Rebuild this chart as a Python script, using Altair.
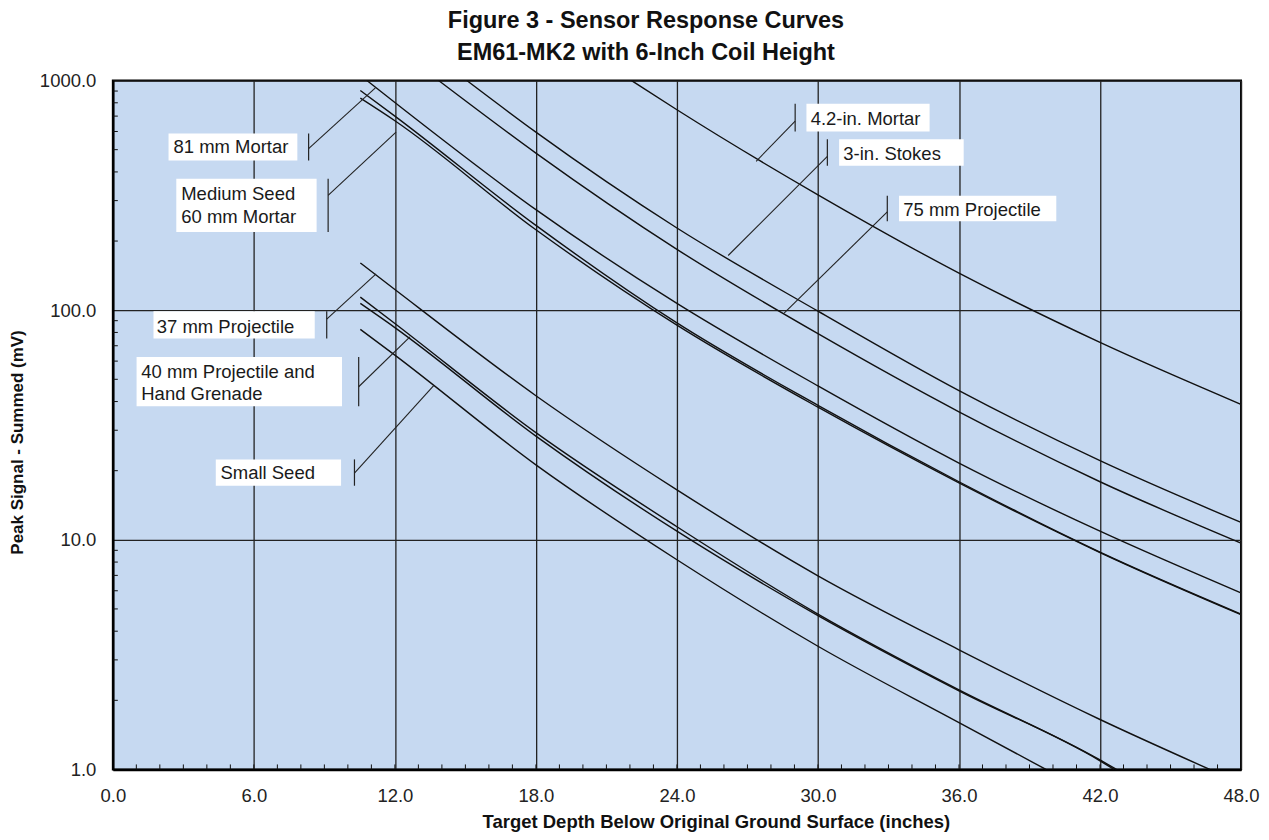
import altair as alt
import pandas as pd

FONT = "Liberation Sans"

# ---------------- curve data (depth in inches, peak signal in mV) ----------------
mortar42_depth = [22.07, 24, 30, 36, 42, 48]
mortar42_value = [1000, 746, 318, 145, 72.4, 38.9]

stokes_depth = [15.06, 18, 24, 30, 36, 42, 48]
stokes_value = [1000, 596, 228, 99, 44.6, 22.1, 11.9]

proj75_depth = [13.86, 18, 24, 30, 36, 42, 48]
proj75_value = [1000, 483, 184, 79, 36.1, 17.9, 9.67]

mortar81_depth = [10.81, 12, 18, 24, 30, 36, 42, 48]
mortar81_value = [1000, 802, 274, 107, 46.8, 21.6, 10.9, 5.87]

medseed_depth = [10.53, 12, 18, 24, 30, 36, 42, 48]
medseed_value = [905, 700, 234, 88, 38.5, 17.9, 8.84, 4.75]

mortar60_depth = [10.53, 12, 18, 24, 30, 36, 42, 48]
mortar60_value = [838, 668, 224, 86, 37.8, 17.7, 8.8, 4.72]

proj37_depth = [10.53, 12, 18, 24, 30, 36, 42, 46.67]
proj37_value = [160.6, 123, 42.4, 16.5, 6.97, 3.32, 1.65, 1.0]

proj40_depth = [10.53, 12, 18, 24, 30, 36, 42, 42.7]
proj40_value = [114, 87.5, 29.3, 11.4, 4.75, 2.22, 1.1, 1.0]

grenade_depth = [10.53, 12, 18, 24, 30, 36, 42, 42.6]
grenade_value = [107, 84, 28.3, 10.9, 4.68, 2.2, 1.09, 1.0]

smallseed_depth = [10.53, 12, 18, 24, 30, 36, 39.7]
smallseed_value = [82.5, 63.7, 21.2, 8.19, 3.44, 1.6, 1.0]

curves = [
    ("4.2-in. Mortar", mortar42_depth, mortar42_value),
    ("3-in. Stokes", stokes_depth, stokes_value),
    ("75 mm Projectile", proj75_depth, proj75_value),
    ("81 mm Mortar", mortar81_depth, mortar81_value),
    ("Medium Seed", medseed_depth, medseed_value),
    ("60 mm Mortar", mortar60_depth, mortar60_value),
    ("37 mm Projectile", proj37_depth, proj37_value),
    ("40 mm Projectile", proj40_depth, proj40_value),
    ("Hand Grenade", grenade_depth, grenade_value),
    ("Small Seed", smallseed_depth, smallseed_value),
]

# axis ticks
x_major = [0, 6, 12, 18, 24, 30, 36, 42, 48]
y_major = [1, 10, 100, 1000]
x_minor = list(range(1, 48))
y_minor = [m * 10 ** e for e in range(3) for m in range(2, 10)]

# ---------------- annotation data (data units) ----------------
label_lines = ["81 mm Mortar", "Medium Seed", "60 mm Mortar", "37 mm Projectile",
               "40 mm Projectile and", "Hand Grenade", "Small Seed",
               "4.2-in. Mortar", "3-in. Stokes", "75 mm Projectile"]
label_depth = [2.58, 2.91, 2.91, 1.87, 1.21, 1.21, 4.58, 29.69, 31.08, 33.63]
label_value = [511, 321.7, 254.5, 84.1, 53.9, 43.1, 19.5, 681.6, 480, 272]

box_d0 = [2.37, 2.70, 1.73, 1.01, 4.38, 29.51, 30.90, 33.45]
box_d1 = [7.85, 8.67, 8.59, 9.75, 9.71, 34.75, 36.20, 40.14]
box_v0 = [449, 218.9, 75.3, 38.2, 17.2, 600, 425.8, 243.8]
box_v1 = [588, 373.9, 99.0, 62.6, 22.4, 792, 555.7, 315.2]

bar_d = [8.33, 9.16, 9.10, 10.46, 10.28, 29.03, 30.40, 32.95]

lead_d0 = [8.33, 9.16, 9.10, 10.46, 10.28, 29.03, 30.40, 32.95]
lead_v0 = [505, 316, 91.4, 46.4, 19.5, 665, 467, 268]
lead_d1 = [11.17, 12.05, 11.2, 12.64, 13.65, 27.37, 26.18, 28.56]
lead_v1 = [929, 596, 144, 76.5, 46.9, 445, 173, 97]

title_lines = ["Figure 3 - Sensor Response Curves", "EM61-MK2 with 6-Inch Coil Height"]

# ---------------- tables ----------------
rows = []
for name, ds, vs in curves:
    for d, v in zip(ds, vs):
        rows.append({"curve": name, "depth": d, "value": v})
df_curves = pd.DataFrame(rows)

df_xminor = pd.DataFrame({"depth": x_minor})
df_yminor = pd.DataFrame({"value": y_minor})
df_labels = pd.DataFrame({"label": label_lines, "depth": label_depth, "value": label_value})
df_boxes = pd.DataFrame({"depth": box_d0, "depth2": box_d1, "value": box_v0, "value2": box_v1})
df_bars = pd.DataFrame({"depth": bar_d, "value": box_v0, "value2": box_v1})
df_leads = pd.DataFrame({"depth": lead_d0, "value": lead_v0, "depth2": lead_d1, "value2": lead_v1})

W, H = 1130, 690
XS = alt.Scale(domain=[0, 48], nice=False, zero=False)
YS = alt.Scale(type="log", domain=[1, 1000], nice=False)

x_axis = alt.Axis(values=x_major, format=".1f", grid=True, ticks=False, domain=True,
                  domainColor="#000", domainWidth=2.5, gridColor="#222", gridWidth=1.3,
                  labelFont=FONT, labelFontSize=18.5, labelColor="#222", labelPadding=17,
                  labelFlush=False, labelOverlap=False,
                  title="Target Depth Below Original Ground Surface (inches)",
                  titleFont=FONT, titleFontSize=18.5, titleFontWeight="bold", titleColor="#111",
                  titleX=604, titleY=52, titleAnchor="middle", titleBaseline="middle", titleAlign="center")
y_axis = alt.Axis(values=y_major, format=".1f", grid=True, ticks=False, domain=True,
                  domainColor="#000", domainWidth=2.5, gridColor="#222", gridWidth=1.3,
                  labelFont=FONT, labelFontSize=18.5, labelColor="#222", labelPadding=17,
                  labelFlush=False, labelOverlap=False,
                  title="Peak Signal - Summed (mV)",
                  titleFont=FONT, titleFontSize=17, titleFontWeight="bold", titleColor="#111",
                  titleX=-95, titleY=362, titleAngle=-90, titleAnchor="middle",
                  titleBaseline="middle", titleAlign="center")

X = alt.X("depth:Q", scale=XS, axis=x_axis)
Y = alt.Y("value:Q", scale=YS, axis=y_axis)

curves_layer = alt.Chart(df_curves).mark_line(
    color="#111", strokeWidth=1.4, interpolate="monotone", clip=True
).encode(x=X, y=Y, detail="curve:N")

xminor_layer = alt.Chart(df_xminor).mark_rule(color="#111", strokeWidth=1).encode(
    x=X, y=alt.value(H), y2=alt.value(H - 5),
)
yminor_layer = alt.Chart(df_yminor).mark_rule(color="#111", strokeWidth=1).encode(
    y=Y, x=alt.value(0), x2=alt.value(5),
)

boxes_layer = alt.Chart(df_boxes).mark_rect(fill="white").encode(
    x=X, x2="depth2:Q", y=Y, y2="value2:Q",
)
bars_layer = alt.Chart(df_bars).mark_rule(color="#222", strokeWidth=1.2).encode(
    x=X, y=Y, y2="value2:Q",
)
leads_layer = alt.Chart(df_leads).mark_rule(color="#222", strokeWidth=1.1).encode(
    x=X, x2="depth2:Q", y=Y, y2="value2:Q",
)
labels_layer = alt.Chart(df_labels).mark_text(
    align="left", baseline="middle", font=FONT, fontSize=18.5, color="#1a1a1a"
).encode(x=X, y=Y, text="label:N")

title1 = alt.Chart(pd.DataFrame({"t": [title_lines[0]]})).mark_text(
    align="center", baseline="middle", font=FONT, fontSize=23.5, fontWeight="bold", color="#111"
).encode(x=alt.value(534), y=alt.value(-60), text="t:N")
title2 = alt.Chart(pd.DataFrame({"t": [title_lines[1]]})).mark_text(
    align="center", baseline="middle", font=FONT, fontSize=23.5, fontWeight="bold", color="#111"
).encode(x=alt.value(534), y=alt.value(-28), text="t:N")

chart = alt.layer(
    curves_layer, xminor_layer, yminor_layer, leads_layer, bars_layer,
    boxes_layer, labels_layer, title1, title2
).properties(
    width=W, height=H,
    autosize=alt.AutoSizeParams(type="none"),
    padding={"left": 105, "top": 72, "right": 20, "bottom": 62},
    background="white",
).configure_view(
    fill="#C6D9F1", stroke="#000", strokeWidth=2
)

chart.save("out.html", embed_options={"renderer": "svg", "actions": False})
